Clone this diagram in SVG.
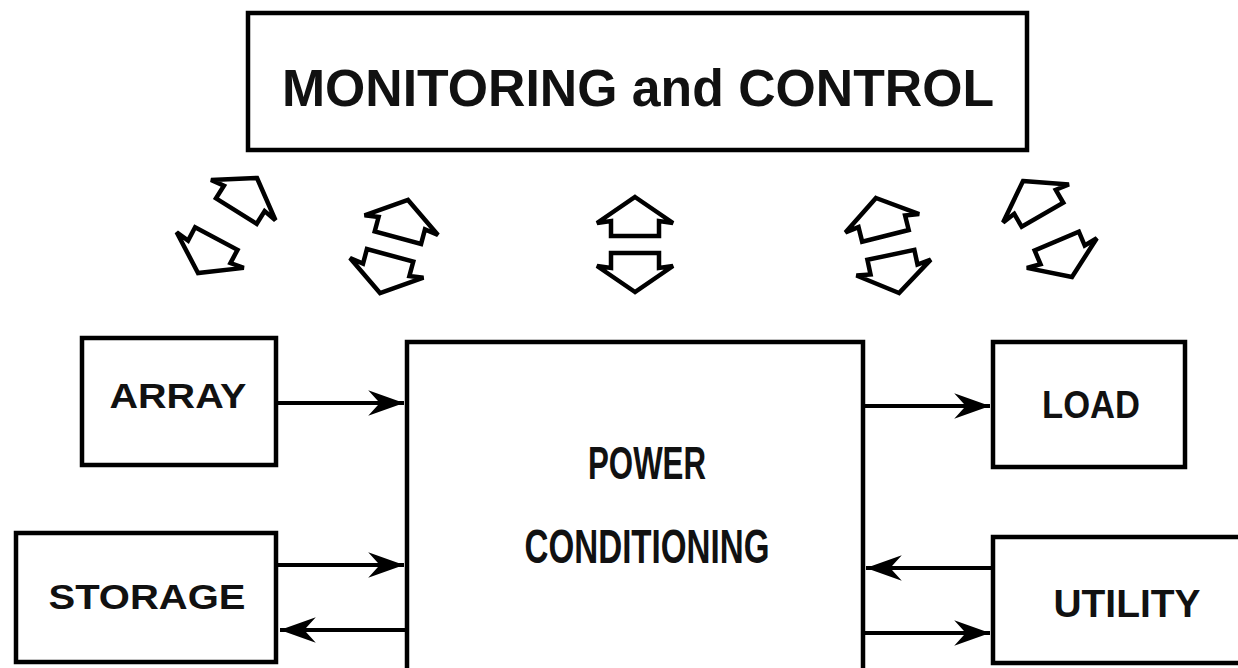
<svg xmlns="http://www.w3.org/2000/svg" width="1238" height="668" viewBox="0 0 1238 668">
<style>
.box{fill:none;stroke:#000;stroke-width:4.5;stroke-linejoin:miter}
.lbl{font-family:"Liberation Sans",Arial,sans-serif;font-weight:bold;fill:#111;text-anchor:middle}
.conn{stroke:#000;stroke-width:4;fill:none}
.ha{fill:#fff;stroke:#000;stroke-width:4.5;stroke-linejoin:miter}
</style>
<defs>
<marker id="ah" markerUnits="userSpaceOnUse" markerWidth="40" markerHeight="30" viewBox="-36 -14 38 28" refX="0" refY="0" orient="auto">
<path d="M0,0 L-34,-12 L-23,0 L-34,12 Z" fill="#000"/>
</marker>
<polygon id="house" points="0,0 38,26 24,24 24,39 -24,39 -24,24 -38,26"/>
</defs>
<rect width="1238" height="668" fill="#fff"/>

<g id="monitoring">
<rect class="box" x="248" y="13" width="779" height="137"/>
<text class="lbl" x="638" y="106" font-size="51" textLength="712" lengthAdjust="spacingAndGlyphs">MONITORING and CONTROL</text>
</g>

<g id="array">
<rect class="box" x="82" y="338" width="194" height="127"/>
<text class="lbl" x="178" y="408" font-size="35" textLength="137" lengthAdjust="spacingAndGlyphs">ARRAY</text>
</g>

<g id="storage">
<rect class="box" x="16" y="533" width="260" height="129"/>
<text class="lbl" x="147" y="609" font-size="35" textLength="197" lengthAdjust="spacingAndGlyphs">STORAGE</text>
</g>

<g id="power-conditioning">
<path class="box" d="M407,672 V342 H863 V672"/>
<text class="lbl" x="647" y="479" font-size="47" textLength="118" lengthAdjust="spacingAndGlyphs">POWER</text>
<text class="lbl" x="647" y="563" font-size="48" textLength="245" lengthAdjust="spacingAndGlyphs">CONDITIONING</text>
</g>

<g id="load">
<rect class="box" x="993" y="342" width="192" height="125"/>
<text class="lbl" x="1091" y="418" font-size="38" textLength="98" lengthAdjust="spacingAndGlyphs">LOAD</text>
</g>

<g id="utility">
<path class="box" d="M1242,537 H993 V663 H1242"/>
<text class="lbl" x="1127" y="617" font-size="38" textLength="147" lengthAdjust="spacingAndGlyphs">UTILITY</text>
</g>

<g id="connectors">
<line class="conn" x1="278" y1="403" x2="404" y2="403" marker-end="url(#ah)"/>
<line class="conn" x1="278" y1="565" x2="404" y2="565" marker-end="url(#ah)"/>
<line class="conn" x1="405" y1="630" x2="280" y2="630" marker-end="url(#ah)"/>
<line class="conn" x1="865" y1="406" x2="990" y2="406" marker-end="url(#ah)"/>
<line class="conn" x1="991" y1="568" x2="866" y2="568" marker-end="url(#ah)"/>
<line class="conn" x1="865" y1="633" x2="990" y2="633" marker-end="url(#ah)"/>
</g>

<g id="hollow-arrows">
<use href="#house" class="ha" transform="translate(257,178) rotate(32)"/>
<use href="#house" class="ha" transform="translate(198,273) rotate(208)"/>
<use href="#house" class="ha" transform="translate(408,200) rotate(15)"/>
<use href="#house" class="ha" transform="translate(380,293) rotate(195)"/>
<use href="#house" class="ha" transform="translate(635,197)"/>
<use href="#house" class="ha" transform="translate(635,292) rotate(180)"/>
<use href="#house" class="ha" transform="translate(876,198) rotate(-14)"/>
<use href="#house" class="ha" transform="translate(899,293) rotate(168)"/>
<use href="#house" class="ha" transform="translate(1023,181) rotate(-30)"/>
<use href="#house" class="ha" transform="translate(1072,277) rotate(157)"/>
</g>
</svg>
